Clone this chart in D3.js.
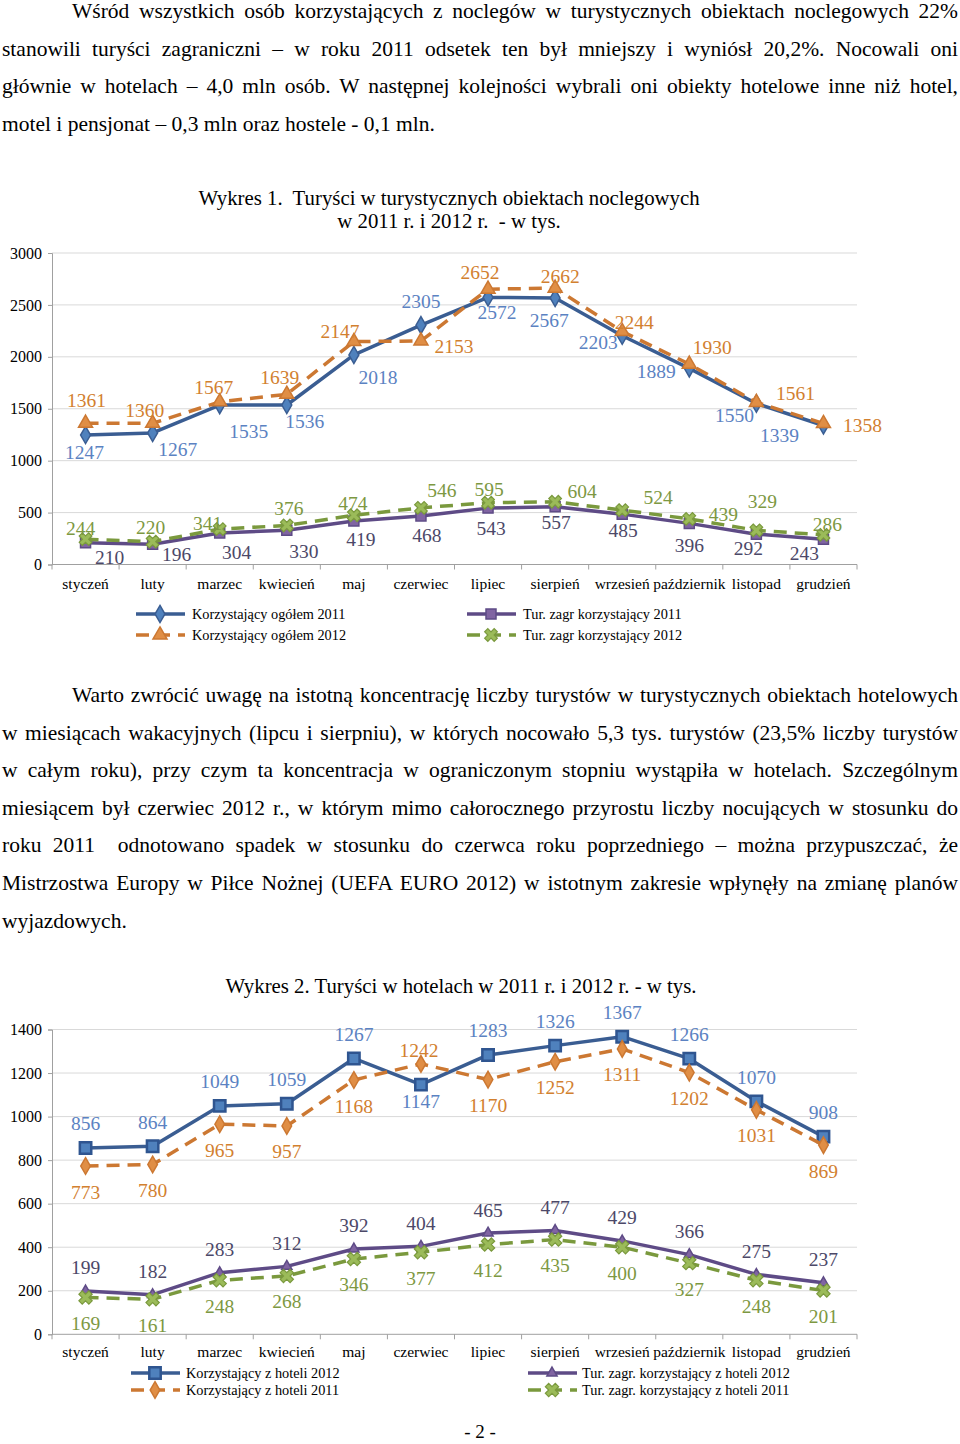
<!DOCTYPE html>
<html><head><meta charset="utf-8">
<script src="https://cdn.jsdelivr.net/npm/d3@7/dist/d3.min.js"></script>
<style>
body{margin:0;background:#fff}
text{font-family:"Liberation Serif","Times New Roman",serif}
</style></head>
<body><svg id="page" width="960" height="1444"></svg>
<script>
// ---------- data ----------
const months = ["styczeń","luty","marzec","kwiecień","maj","czerwiec","lipiec","sierpień","wrzesień","październik","listopad","grudzień"];

// Wykres 1
const total2011 = [1247,1267,1535,1536,2018,2305,2572,2567,2203,1889,1550,1339];
const total2012 = [1361,1360,1567,1639,2147,2153,2652,2662,2244,1930,1561,1358];
const foreign2011 = [210,196,304,330,419,468,543,557,485,396,292,243];
const foreign2012 = [244,220,341,376,474,546,595,604,524,439,329,286];
const ticks1 = [0,500,1000,1500,2000,2500,3000];

// Wykres 2
const hotel2012 = [856,864,1049,1059,1267,1147,1283,1326,1367,1266,1070,908];
const hotel2011 = [773,780,965,957,1168,1242,1170,1252,1311,1202,1031,869];
const hotelForeign2012 = [199,182,283,312,392,404,465,477,429,366,275,237];
const hotelForeign2011 = [169,161,248,268,346,377,412,435,400,327,248,201];
const ticks2 = [0,200,400,600,800,1000,1200,1400];

const legend1 = ["Korzystający ogółem 2011","Korzystający ogółem 2012","Tur. zagr korzystający 2011","Tur. zagr korzystający 2012"];
const legend2 = ["Korzystający z hoteli 2012","Korzystający z hoteli 2011","Tur. zagr. korzystający z hoteli 2012","Tur. zagr. korzystający z hoteli 2011"];

const para1 = [
 "Wśród wszystkich osób korzystających z noclegów w turystycznych obiektach noclegowych 22%",
 "stanowili turyści zagraniczni – w roku 2011 odsetek ten był mniejszy i wyniósł 20,2%. Nocowali oni",
 "głównie w hotelach – 4,0 mln osób. W następnej kolejności wybrali oni obiekty hotelowe inne niż hotel,",
 "motel i pensjonat – 0,3 mln oraz hostele - 0,1 mln."
];
const para2 = [
 "Warto zwrócić uwagę na istotną koncentrację liczby turystów w turystycznych obiektach hotelowych",
 "w miesiącach wakacyjnych (lipcu i sierpniu), w których nocowało 5,3 tys. turystów (23,5% liczby turystów",
 "w całym roku), przy czym ta koncentracja w ograniczonym stopniu wystąpiła w hotelach. Szczególnym",
 "miesiącem był czerwiec 2012 r., w którym mimo całorocznego przyrostu liczby nocujących w stosunku do",
 "roku 2011  odnotowano spadek w stosunku do czerwca roku poprzedniego – można przypuszczać, że",
 "Mistrzostwa Europy w Piłce Nożnej (UEFA EURO 2012) w istotnym zakresie wpłynęły na zmianę planów",
 "wyjazdowych."
];

// label offsets (layout only)
const off1 = {
 t11: [[-1,17],[25,17],[29,26],[18,16],[24,23],[0,-24],[9,15],[-6,23],[-24,7],[-33,3],[-22,12],[-44,10]],
 t12: [[1,-23],[-8,-13],[-6,-14],[-7,-17],[-14,-10],[33,6],[-8,-17],[5,-12],[12,-9],[23,-17],[39,-9],[39,2]],
 f11: [[24,15],[24,10],[17,20],[17,21],[7,19],[6,20],[3,20],[1,16],[1,16],[0,22],[-8,14],[-19,14]],
 f12: [[-5,-11],[-2,-14],[-12,-6],[2,-17],[-1,-12],[21,-17],[1,-13],[27,-10],[36,-13],[34,-4],[6,-29],[4,-10]]
};

// ---------- page ----------
const svg = d3.select("#page");
const C = {
  blueLine:"#3A5D92", blueFill:"#4F81BD", blueText:"#5B82C2",
  orangeLine:"#CC7832", orangeFill:"#E08E45", orangeText:"#D2802F",
  purpleLine:"#5E4B86", purpleFill:"#8064A2", purpleText:"#4C4868",
  greenLine:"#7A993D", greenFill:"#9BBB59", greenText:"#7D9842",
  grid:"#D9D9D9", axis:"#A0A0A0"
};

function textLine(txt, x, y, right, justify){
  const t = svg.append("text").attr("x",x).attr("y",y)
    .style("white-space","pre").style("font-size","21.5px").attr("fill","#000").text(txt);
  if(justify){
    const w = t.node().getComputedTextLength();
    const n = (txt.match(/ /g)||[]).length;
    if(n>0) t.style("word-spacing", ((right-x-w)/n)+"px");
  }
}
const lh = 37.6;
para1.forEach((s,i)=>textLine(s, i===0?72:2, 18+i*lh, 958, i<para1.length-1));
para2.forEach((s,i)=>textLine(s, i===0?72:2, 702+i*lh, 958, i<para2.length-1));

svg.append("text").attr("x",480).attr("y",1438).attr("text-anchor","middle")
  .style("font-size","19px").text("- 2 -");

// ---------- shared helpers ----------
const x = d3.scaleBand().domain(months).range([52,857]).padding(0);
const cx = m => x(m)+x.bandwidth()/2;

function frame(g, y, ticks, labelY){
  const [y0] = y.range();
  g.append("g").selectAll("line").data(ticks.slice(1)).join("line")
    .attr("x1",52).attr("x2",857).attr("y1",d=>y(d)).attr("y2",d=>y(d))
    .attr("stroke",C.grid).attr("stroke-width",1);
  const ya = d3.axisLeft(y).tickValues(ticks).tickFormat(d3.format("d")).tickSize(4).tickPadding(6);
  const yg = g.append("g").attr("transform","translate(52,0)").call(ya);
  yg.select(".domain").attr("stroke",C.axis);
  yg.selectAll(".tick line").attr("stroke",C.axis);
  yg.selectAll(".tick text").style("font-family","Liberation Serif").style("font-size","16px").attr("fill","#000");
  // x axis
  g.append("line").attr("x1",52).attr("x2",857).attr("y1",y0).attr("y2",y0).attr("stroke",C.axis);
  const edges = months.map(m=>x(m)).concat([x.range()[1]]);
  g.append("g").selectAll("line").data(edges).join("line")
    .attr("x1",d=>d).attr("x2",d=>d).attr("y1",y0).attr("y2",y0+5).attr("stroke",C.axis);
  g.append("g").selectAll("text").data(months).join("text")
    .attr("x",d=>cx(d)).attr("y",labelY).attr("text-anchor","middle")
    .style("font-size","15.5px").attr("fill","#000").text(d=>d);
}

function series(g, y, vals, o){
  const line = d3.line().x((d,i)=>cx(months[i])).y(d=>y(d));
  g.append("path").datum(vals).attr("d",line).attr("fill","none")
    .attr("stroke",o.line).attr("stroke-width",o.width||3.5)
    .attr("stroke-dasharray",o.dash||null).attr("stroke-linejoin","round");
  g.append("g").selectAll("path").data(vals).join("path")
    .attr("transform",(d,i)=>`translate(${cx(months[i])},${y(d)}) rotate(${o.rot||0})`)
    .attr("d",d3.symbol().type(o.sym).size(o.size))
    .attr("fill",o.fill).attr("stroke",o.stroke).attr("stroke-width",o.sw||1.5);
}
function labels(g, y, vals, offs, color){
  g.append("g").selectAll("text").data(vals).join("text")
    .attr("x",(d,i)=>cx(months[i])+offs[i][0])
    .attr("y",(d,i)=>y(d)+offs[i][1])
    .attr("text-anchor","middle").attr("dominant-baseline","central")
    .style("font-size","19.5px").attr("fill",color).text(d=>d);
}
function legendItem(g, lx, ly, txt, o, tx){
  g.append("line").attr("x1",lx).attr("x2",lx+49).attr("y1",ly).attr("y2",ly)
    .attr("stroke",o.line).attr("stroke-width",o.width||3.5).attr("stroke-dasharray",o.dash||null);
  g.append("path").attr("transform",`translate(${lx+24},${ly}) rotate(${o.rot||0})`)
    .attr("d",d3.symbol().type(o.sym).size(o.size))
    .attr("fill",o.fill).attr("stroke",o.stroke).attr("stroke-width",o.sw||1.5);
  g.append("text").attr("x",tx).attr("y",ly).attr("dominant-baseline","central")
    .style("font-size","14.3px").attr("fill","#000").text(txt);
}

// ---------- Wykres 1 ----------
const g1 = svg.append("g");
const y1 = d3.scaleLinear().domain([0,3000]).range([564.5,253]);
g1.append("text").attr("x",449).attr("y",205).attr("text-anchor","middle")
  .style("font-size","20.8px").style("white-space","pre").text("Wykres 1.  Turyści w turystycznych obiektach noclegowych");
g1.append("text").attr("x",449).attr("y",228).attr("text-anchor","middle")
  .style("font-size","20.8px").style("white-space","pre").text("w 2011 r. i 2012 r.  - w tys.");
frame(g1, y1, ticks1, 589);

const s1 = {
  t11:{line:C.blueLine, sym:d3.symbolDiamond, size:85, fill:C.blueFill, stroke:C.blueLine},
  t12:{line:C.orangeLine, dash:"13,8", sym:d3.symbolTriangle, size:85, fill:C.orangeFill, stroke:C.orangeLine},
  f11:{line:C.purpleLine, sym:d3.symbolSquare, size:100, fill:C.purpleFill, stroke:C.purpleLine},
  f12:{line:C.greenLine, dash:"13,8", sym:d3.symbolCross, rot:45, size:100, fill:C.greenFill, stroke:C.greenLine, sw:1.2}
};
series(g1, y1, total2011, s1.t11);
series(g1, y1, total2012, s1.t12);
series(g1, y1, foreign2011, s1.f11);
series(g1, y1, foreign2012, s1.f12);
labels(g1, y1, total2011, off1.t11, C.blueText);
labels(g1, y1, total2012, off1.t12, C.orangeText);
labels(g1, y1, foreign2011, off1.f11, C.purpleText);
labels(g1, y1, foreign2012, off1.f12, C.greenText);

legendItem(g1, 136, 614, legend1[0], s1.t11, 192);
legendItem(g1, 136, 635, legend1[1], s1.t12, 192);
legendItem(g1, 467, 614, legend1[2], s1.f11, 523);
legendItem(g1, 467, 635, legend1[3], s1.f12, 523);

// ---------- Wykres 2 ----------
const g2 = svg.append("g");
const y2 = d3.scaleLinear().domain([0,1400]).range([1334.3,1029.5]);
g2.append("text").attr("x",461).attr("y",993).attr("text-anchor","middle")
  .style("font-size","20.8px").text("Wykres 2. Turyści w hotelach w 2011 r. i 2012 r. - w tys.");
frame(g2, y2, ticks2, 1357);

const s2 = {
  h12:{line:C.blueLine, sym:d3.symbolSquare, size:130, fill:C.blueFill, stroke:"#2F5590", sw:2.5},
  h11:{line:C.orangeLine, dash:"13,8", sym:d3.symbolDiamond, size:80, fill:C.orangeFill, stroke:C.orangeLine},
  f12:{line:C.purpleLine, sym:d3.symbolTriangle, size:45, fill:C.purpleFill, stroke:C.purpleLine},
  f11:{line:C.greenLine, dash:"13,8", sym:d3.symbolCross, rot:45, size:110, fill:C.greenFill, stroke:C.greenLine, sw:1.2}
};
series(g2, y2, hotel2012, s2.h12);
series(g2, y2, hotel2011, s2.h11);
series(g2, y2, hotelForeign2012, s2.f12);
series(g2, y2, hotelForeign2011, s2.f11);
const up = n => Array.from({length:12},()=>[0,-n]);
const dn = n => Array.from({length:12},()=>[0,n]);
const o2h12 = up(24); o2h12[5] = [0,17];
const o2h11 = dn(26); o2h11[5] = [-2,-13];
labels(g2, y2, hotel2012, o2h12, C.blueText);
labels(g2, y2, hotel2011, o2h11, C.orangeText);
labels(g2, y2, hotelForeign2012, up(23), C.purpleText);
labels(g2, y2, hotelForeign2011, dn(26), C.greenText);

legendItem(g2, 131, 1373, legend2[0], s2.h12, 186);
legendItem(g2, 131, 1390, legend2[1], s2.h11, 186);
legendItem(g2, 528, 1373, legend2[2], s2.f12, 582);
legendItem(g2, 528, 1390, legend2[3], s2.f11, 582);
</script>
</body></html>
